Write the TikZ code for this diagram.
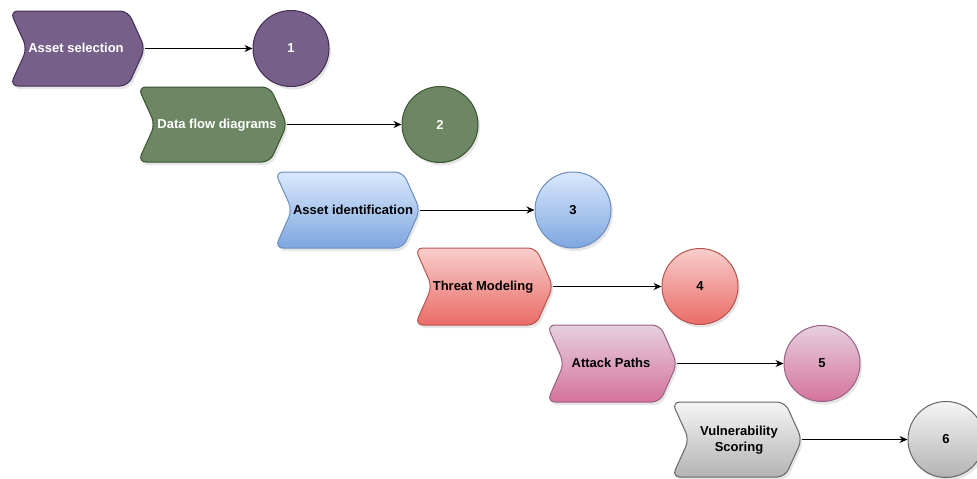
\documentclass[tikz,border=0pt]{standalone}
\usepackage{fontspec}
\setmainfont{Liberation Sans}
\usetikzlibrary{arrows.meta,shadows}
\definecolor{purF}{HTML}{76608A}\definecolor{purD}{HTML}{432D57}
\definecolor{grnF}{HTML}{6D8764}\definecolor{grnD}{HTML}{3A5431}
\definecolor{bluT}{HTML}{DAE8FC}\definecolor{bluB}{HTML}{7EA6E0}\definecolor{bluD}{HTML}{6C8EBF}
\definecolor{redT}{HTML}{F8CECC}\definecolor{redB}{HTML}{EA6B66}\definecolor{redD}{HTML}{B85450}
\definecolor{pnkT}{HTML}{E6D0DE}\definecolor{pnkB}{HTML}{D5739D}\definecolor{pnkD}{HTML}{996185}
\definecolor{gryT}{HTML}{F5F5F5}\definecolor{gryB}{HTML}{B3B3B3}\definecolor{gryD}{HTML}{666666}
\newcommand\mychev[5]{%
  \path[shapebase,#5] (#1,#3) -- ({#2-17},#3) -- (#2,{(#3+#4)/2}) -- ({#2-17},#4) -- (#1,#4) -- ({#1+17},{(#3+#4)/2}) -- cycle;}
\tikzset{
  shapebase/.style={line width=1pt,rounded corners=8pt,drop shadow={opacity=0.2,shadow xshift=2pt,shadow yshift=-3pt}},
  circbase/.style={circle,minimum size=76pt,inner sep=0pt,line width=1pt,font=\bfseries\fontsize{13}{15}\selectfont,drop shadow={opacity=0.2,shadow xshift=2pt,shadow yshift=-3pt}},
  lbl/.style={font=\bfseries\fontsize{13}{15}\selectfont,align=center,inner sep=0pt},
  conn/.style={line width=1pt,-{Stealth[length=8pt,width=7pt]}},
  sPur/.style={fill=purF,draw=purD},
  sGrn/.style={fill=grnF,draw=grnD},
  sBlu/.style={top color=bluT,bottom color=bluB,draw=bluD},
  sRed/.style={top color=redT,bottom color=redB,draw=redD},
  sPnk/.style={top color=pnkT,bottom color=pnkB,draw=pnkD},
  sGry/.style={top color=gryT,bottom color=gryB,draw=gryD},
}
\begin{document}
\begin{tikzpicture}[x=1pt,y=-1pt]
\useasboundingbox (0,0) rectangle (977,479);
% chevrons
\mychev{10}{145}{11}{86}{sPur}
\mychev{138}{287}{87}{162}{sGrn}
\mychev{275}{420}{172}{248}{sBlu}
\mychev{415}{553}{248}{325}{sRed}
\mychev{547}{677}{325}{402}{sPnk}
\mychev{672}{802}{402}{477}{sGry}
% labels
\node[lbl,text=white] (c1) at (76,48) {Asset selection};
\node[lbl,text=white] (c2) at (217,125) {Data flow diagrams};
\node[lbl] (c3) at (353,210) {Asset identification};
\node[lbl] (c4) at (483,287) {Threat Modeling};
\node[lbl] (c5) at (611,363) {Attack Paths};
\node[lbl] (c6) at (739,440) {Vulnerability\\[1pt]Scoring};
% tips
\coordinate (t1) at (145,48.5);
\coordinate (t2) at (287,124.5);
\coordinate (t3) at (420,210);
\coordinate (t4) at (553,286.5);
\coordinate (t5) at (677,363.5);
\coordinate (t6) at (802,439.5);
% circles
\node[circbase,sPur,text=white] (n1) at (291,48.5) {1};
\node[circbase,sGrn,text=white] (n2) at (440,124.5) {2};
\node[circbase,sBlu] (n3) at (573,210) {3};
\node[circbase,sRed] (n4) at (700,286.5) {4};
\node[circbase,sPnk] (n5) at (822,363.5) {5};
\node[circbase,sGry] (n6) at (946,439.5) {6};
% connectors
\draw[conn] (t1) -- (n1.west);
\draw[conn] (t2) -- (n2.west);
\draw[conn] (t3) -- (n3.west);
\draw[conn] (t4) -- (n4.west);
\draw[conn] (t5) -- (n5.west);
\draw[conn] (t6) -- (n6.west);
\end{tikzpicture}
\end{document}
